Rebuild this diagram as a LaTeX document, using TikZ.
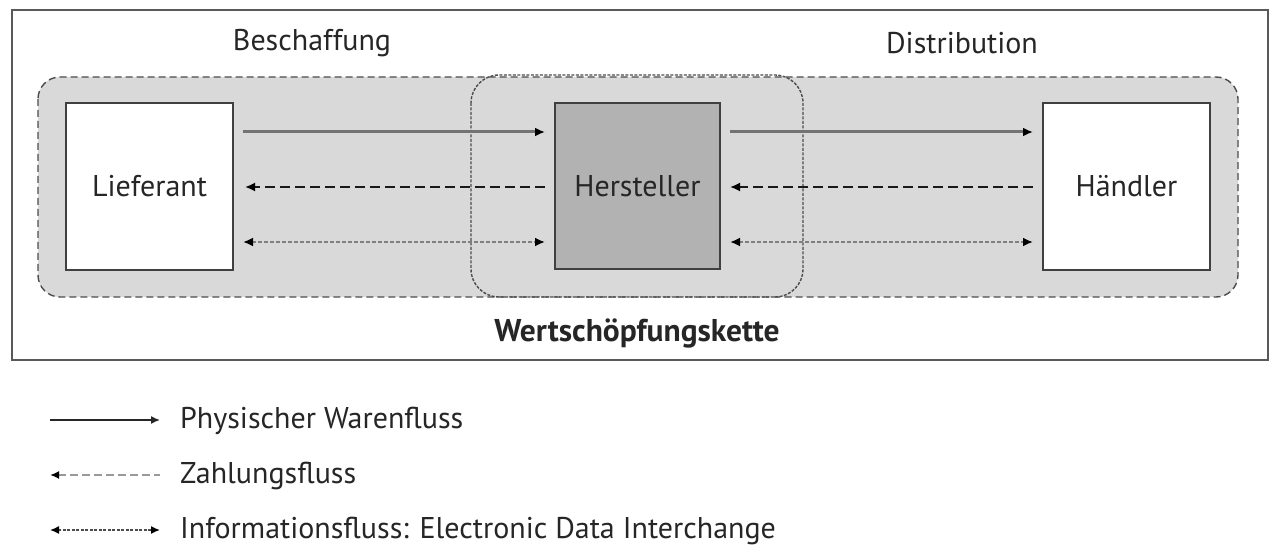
\documentclass[tikz,border=0pt]{standalone}
\usepackage{fontspec}
\setmainfont{PT Sans}
\usetikzlibrary{arrows.meta}
\begin{document}
\begin{tikzpicture}[x=1pt,y=-1pt,
  every node/.style={font=\fontsize{30}{32}\selectfont, text=black!85},
  actor/.style={draw=black!75, line width=1.6pt, fill=white},
  tip/.style={-{Latex[length=10pt,width=9pt,black]}},
  btip/.style={{Latex[length=10pt,width=9pt,black]}-{Latex[length=10pt,width=9pt,black]}},
  solidflow/.style={draw=black!55, line width=3pt},
  payflow/.style={draw=black!90, line width=1.8pt, dash pattern=on 10pt off 5pt},
  infoflow/.style={draw=black!50, line width=2.8pt, dash pattern=on 4pt off 2pt},
  region/.style={draw=black!70, line width=1.4pt, dash pattern=on 7pt off 4pt}
]
\useasboundingbox (0,0) rectangle (1278,548);
\fill[white] (0,0) rectangle (1278,548);
% outer frame
\draw[black!65, line width=2.2pt] (12,10) rectangle (1268,360);
% grey chain region
\draw[region, fill=black!15, rounded corners=22pt] (38,77) rectangle (1238,297);
% Hersteller region
\draw[region, dash pattern=on 3pt off 1.5pt, rounded corners=28pt] (471,75) rectangle (803,297);
% boxes
\node[actor, minimum width=167pt, minimum height=167pt, inner sep=0pt] (L) at (149.5,186.5) {Lieferant};
\node[actor, fill=black!30, minimum width=165pt, minimum height=166pt, inner sep=0pt] (H) at (637.5,186) {Hersteller};
\node[actor, minimum width=167pt, minimum height=167pt, inner sep=0pt] (D) at (1126.5,186.5) {Händler};
% labels
\node (besch) at (312,43) {Beschaffung};
\node (distr) at (962,43) {Distribution};
\node[font=\fontsize{31.5}{33}\selectfont\bfseries] (wsk) at (637,333) {Wertschöpfungskette};
% coordinates for flows
\coordinate (l1) at (243,132); \coordinate (h1) at (545,132);
\coordinate (l2) at (245,187); \coordinate (h2) at (545,187);
\coordinate (l3) at (243,242); \coordinate (h3) at (545,242);
\coordinate (r1) at (730,132); \coordinate (d1) at (1033,132);
\coordinate (r2) at (730,187); \coordinate (d2) at (1033,187);
\coordinate (r3) at (730,242); \coordinate (d3) at (1033,242);
\draw[solidflow, tip] (l1) -- (h1);
\draw[solidflow, tip] (r1) -- (d1);
\draw[payflow, tip] (h2) -- (l2);
\draw[payflow, tip] (d2) -- (r2);
\draw[infoflow, btip] (l3) -- (h3);
\draw[infoflow, btip] (r3) -- (d3);
% legend
\coordinate (a1) at (50,420); \coordinate (b1) at (160,420);
\coordinate (a2) at (50,475); \coordinate (b2) at (160,475);
\coordinate (a3) at (50,530); \coordinate (b3) at (160,530);
\draw[black!85, line width=1.5pt, -{Latex[length=9pt,width=8pt]}] (a1) -- (b1);
\draw[black!40, line width=2pt, dash pattern=on 8pt off 4pt, {Latex[length=9pt,width=8pt,black]}-] (a2) -- (b2);
\draw[black!70, line width=1.5pt, dash pattern=on 3pt off 1.5pt, {Latex[length=9pt,width=8pt,black]}-{Latex[length=9pt,width=8pt,black]}] (a3) -- (b3);
\node[anchor=west, inner sep=0pt] (t1) at (180,421) {Physischer Warenfluss};
\node[anchor=west, inner sep=0pt] (t2) at (180,476) {Zahlungsfluss};
\node[anchor=west, inner sep=0pt] (t3) at (180,531) {Informationsfluss: Electronic Data Interchange};
\end{tikzpicture}
\end{document}
